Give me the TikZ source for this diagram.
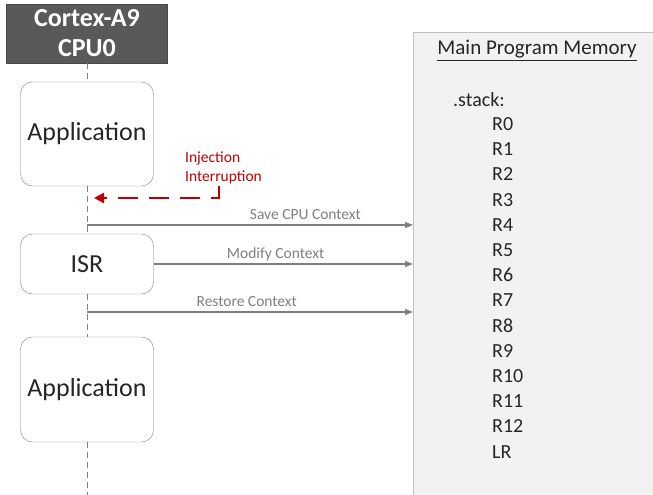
\documentclass[tikz,border=0pt]{standalone}
\usepackage{fontspec}
\setmainfont{Carlito}
\usetikzlibrary{arrows.meta,positioning}
\definecolor{cpugray}{HTML}{595959}
\definecolor{edgegray}{HTML}{7F7F7F}
\definecolor{memfill}{HTML}{F2F2F2}
\definecolor{memedge}{HTML}{BFBFBF}
\definecolor{injred}{HTML}{C00000}
\definecolor{textdark}{HTML}{262626}
\tikzset{
  cpubox/.style={
    draw=cpugray!80!black,
    fill=cpugray,
    text=white,
    align=center,
    inner sep=0pt,
    minimum width=161pt,
    minimum height=59pt,
    font=\fontsize{26}{30}\selectfont\bfseries
  },
  taskbox/.style={
    draw=edgegray,
    rounded corners=12pt,
    fill=white,
    text=textdark,
    inner sep=0pt,
    minimum width=133pt,
    font=\fontsize{26}{30}\selectfont
  },
  membox/.style={draw=memedge, line width=1.2pt, fill=memfill, anchor=north west,
    minimum width=260pt, minimum height=480pt, inner sep=0pt},
  memtext/.style={text=textdark, inner sep=0pt, font=\fontsize{20}{25.2}\selectfont},
  injlabel/.style={text=injred, align=left, anchor=north west, inner sep=0pt,
    font=\fontsize{15.5}{19}\selectfont},
  msglabel/.style={text=edgegray, anchor=base, yshift=6pt, inner sep=0pt,
    font=\fontsize{15.5}{19}\selectfont},
  lifeline/.style={edgegray, dash pattern=on 6pt off 4pt},
  msgflow/.style={-{Triangle[length=8pt,width=6pt]}, edgegray, line width=1.3pt},
  injflow/.style={-{Triangle[length=10pt,width=10pt]}, injred, line width=2.7pt,
    dash pattern=on 20pt off 11pt}
}
\begin{document}
\begin{tikzpicture}[x=1pt, y=-1pt]
\useasboundingbox (0,0) rectangle (653,495);
\node[membox] (mem) at (413,32) {};
\node[memtext, anchor=base, font=\fontsize{21}{25.2}\selectfont] (memtitle) at (537,55)
  {\underline{Main Program Memory}};
\node[memtext, anchor=base west] (stack) at (453,106) {.stack:};
% base of a multi-line node is its last line (LR)
\node[memtext, anchor=base west, align=left] (regs) at (492,458.1)
  {R0\\R1\\R2\\R3\\R4\\R5\\R6\\R7\\R8\\R9\\R10\\R11\\R12\\LR};

\node[cpubox] (cpu) at (87,33.5) {Cortex-A9\\CPU0};
\node[taskbox, minimum height=104pt] (app1) at (87,134) {Application};
\node[taskbox, minimum height=60pt] (isr) at (87,264) {ISR};
\node[taskbox, minimum height=105pt] (app2) at (87,389.5) {Application};
\coordinate (lifeend) at (87,497);

\draw[lifeline] (cpu) -- (app1);
\draw[lifeline] (app1) -- (isr);
\draw[lifeline] (isr) -- (app2);
\draw[lifeline] (app2) -- (lifeend);

% interrupt comes in
\node[injlabel] (injlbl) at (185,151.5) {Injection\\Interruption};
\coordinate (injfrom) at (219,186);
\coordinate (injto) at (94,198);
\draw[injflow] (injfrom) |- (injto);

% context traffic to memory
\coordinate (savefrom) at (87,225);
\coordinate (restfrom) at (87,312);
\draw[msgflow] (savefrom) -- (savefrom -| mem.west) node[msglabel, pos=0.67] {Save CPU Context};
\draw[msgflow] (isr) -- (isr -| mem.west) node[msglabel, pos=0.47] {Modify Context};
\draw[msgflow] (restfrom) -- (restfrom -| mem.west) node[msglabel, pos=0.49] {Restore Context};
\end{tikzpicture}
\end{document}
